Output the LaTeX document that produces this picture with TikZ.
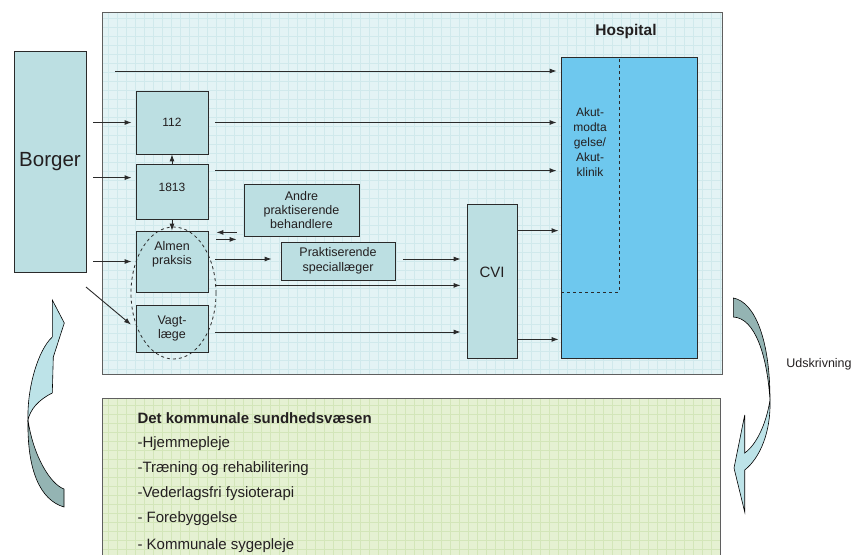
\documentclass[tikz,border=0pt]{standalone}
\usepackage{fontspec}
\setmainfont{Liberation Sans}
\usetikzlibrary{shapes.geometric,arrows.meta}

\definecolor{boxfill}{HTML}{BCDFE2}
\definecolor{hospfill}{HTML}{E3F3F5}
\definecolor{hospgrid}{HTML}{D0E9EC}
\definecolor{kommfill}{HTML}{E5F1D2}
\definecolor{kommgrid}{HTML}{D3E6B9}
\definecolor{akutfill}{HTML}{6EC8EE}
\definecolor{lineclr}{HTML}{2A2A2A}
\definecolor{txtclr}{HTML}{231F20}
\definecolor{arrlight}{HTML}{BDE3E8}
\definecolor{arrdark}{HTML}{94B4B3}

\begin{document}
\begin{tikzpicture}[x=1pt,y=-1pt,
  every node/.style={text=txtclr},
  box/.style={draw=lineclr, line width=.8pt, fill=boxfill, align=center, inner sep=0pt,
    font=\fontsize{12.5}{14.5}\selectfont},
  arr/.style={-{Latex[length=7pt,width=5pt]}, draw=lineclr, line width=.9pt, shorten <=7pt, shorten >=4pt},
  band/.style={draw=black, line width=.6pt},
  listtxt/.style={anchor=west, font=\fontsize{15}{17}\selectfont}]

\useasboundingbox (0,0) rectangle (856,554);

% hospital
\fill[hospfill] (102,12) rectangle (722,374);
\draw[hospgrid, step=9pt] (102,12) grid (722,374);
\draw[lineclr!75, line width=1pt] (102,12) rectangle (722,374);
\node[font=\bfseries\fontsize{15.5}{18}\selectfont] (hosptitle) at (626,31) {Hospital};

% kommune
\fill[kommfill] (102,398) rectangle (720,560);
\draw[kommgrid, step=9pt] (102,398) grid (720,560);
\draw[lineclr!75, line width=1pt] (102,398) rectangle (720,560);

% boxes
\node[box, minimum width=72pt, minimum height=221pt, font=\fontsize{20.5}{24}\selectfont] (borger) at (50,161.5) {Borger};
\node[box, minimum width=72pt, minimum height=63pt, font=\fontsize{12}{14.5}\selectfont] (n112) at (172,122.5) {112};
\node[box, minimum width=72pt, minimum height=55pt, text depth=9pt, font=\fontsize{12}{14.5}\selectfont] (n1813) at (172,191.5) {1813};
\node[box, minimum width=72pt, minimum height=61pt] (almen) at (172,261.5) {Almen\\praksis\\[3pt]\mbox{}};
\node[box, minimum width=72pt, minimum height=47pt] (vagt) at (172,328.5) {Vagt-\\l{\ae}ge};
\node[box, minimum width=115pt, minimum height=52pt, font=\fontsize{12.5}{14}\selectfont] (andre) at (301.5,210) {Andre\\praktiserende\\behandlere};
\node[box, minimum width=114pt, minimum height=38pt] (prakt) at (338,261) {Praktiserende\\speciall{\ae}ger};
\node[box, minimum width=50pt, minimum height=154pt, text depth=18pt, font=\fontsize{15}{18}\selectfont] (cvi) at (492,281) {CVI};

\node[draw=lineclr, fill=akutfill, line width=.8pt, minimum width=136pt, minimum height=301pt, inner sep=0pt] (akut) at (629,207.5) {};
\node[draw=lineclr, dashed, line width=.8pt, minimum width=58pt, minimum height=235pt, inner sep=0pt] (akutdash) at (590,174.5) {};
\node[align=center, font=\fontsize{12}{15}\selectfont] (akuttxt) at (590,142) {Akut-\\modta\\gelse/\\Akut-\\klinik};

\node[ellipse, draw=lineclr, dashed, line width=.8pt, minimum width=85pt, minimum height=132pt, inner sep=0pt] (vagtring) at (173.5,293) {};

% arrows
\coordinate (topstart) at (115,71);
\draw[arr, shorten <=0pt] (topstart) -- (topstart -| akut.west);
\draw[arr] (borger.east |- n112) -- (n112);
\draw[arr] ([yshift=-14pt]n1813.north west -| borger.east) -- ([yshift=-14pt]n1813.north west);
\draw[arr] (borger.east |- almen) -- (almen);
\coordinate (diagstart) at (86,287);
\draw[arr, shorten <=0pt, shorten >=6pt] (diagstart) -- (vagt.west);

\draw[arr, shorten <=0pt, shorten >=0pt] (n1813) -- (n112);
\draw[arr, shorten <=0pt, shorten >=0pt] (n1813) -- (almen);

\draw[arr] (n112.east) -- (n112.east -| akut.west);
\draw[arr] ([yshift=-7pt]n1813.north east) -- ([yshift=-7pt]n1813.north east -| akut.west);

\draw[arr, shorten >=8pt] ([yshift=4pt]andre.south west) -- ([yshift=4pt]andre.south west -| almen.east);
\draw[arr, shorten <=8pt, shorten >=7pt] ([yshift=-3pt]andre.south west -| almen.east) -- ([yshift=-3pt]andre.south west);

\draw[arr, shorten >=9pt] ([yshift=2pt]almen.east |- prakt) -- ([yshift=2pt]prakt.west);
\draw[arr, shorten <=8pt, shorten >=6pt] ([yshift=2pt]prakt.east) -- ([yshift=2pt]prakt.east -| cvi.west);
\draw[arr, shorten >=6pt] ([yshift=7pt]almen.south east) -- ([yshift=7pt]almen.south east -| cvi.west);
\draw[arr, shorten >=6pt] ([yshift=-3.5pt]vagt.east) -- ([yshift=-3.5pt]vagt.east -| cvi.west);

\draw[arr, shorten <=0pt, shorten >=2pt] ([yshift=-27pt]cvi.north east) -- ([yshift=-27pt]cvi.north east -| akut.west);
\draw[arr, shorten <=0pt, shorten >=2pt] ([yshift=19pt]cvi.south east) -- ([yshift=19pt]cvi.south east -| akut.west);

% curved arrow, left
\filldraw[band, fill=arrdark] (28,420) .. controls (27,470) and (40,500) .. (64,507) -- (64,489) .. controls (50,484) and (33,455) .. cycle;
\filldraw[band, fill=arrlight] (52.3,300) -- (64.3,323) -- (53.3,357) -- (52.3,393) .. controls (38,400) and (30,410) .. (28,420) .. controls (27,388) and (38,350) .. (52.3,337) -- cycle;

% curved arrow, right
\filldraw[band, fill=arrdark] (733.3,298) .. controls (755,302) and (770,340) .. (770,400) .. controls (767,355) and (755,318) .. (733.3,317) -- cycle;
\filldraw[band, fill=arrlight] (744.7,415) -- (734,468) -- (744.7,512) -- (744.7,470) .. controls (760,458) and (771,432) .. (770,400) .. controls (766,425) and (756,445) .. (744.7,453) -- cycle;
\node[font=\fontsize{12.5}{15}\selectfont] (udskriv) at (819,364) {Udskrivning};

% kommune text
\node[listtxt, font=\bfseries\fontsize{15}{17}\selectfont] (kommtitle) at (134,418) {Det kommunale sundhedsv{\ae}sen};
\node[listtxt] (k1) at (134,444) {-Hjemmepleje};
\node[listtxt] (k2) at (134,469) {-Tr{\ae}ning og rehabilitering};
\node[listtxt] (k3) at (134,494) {-Vederlagsfri fysioterapi};
\node[listtxt] (k4) at (134,519) {- Forebyggelse};
\node[listtxt] (k5) at (134,546) {- Kommunale sygepleje};

\end{tikzpicture}
\end{document}
